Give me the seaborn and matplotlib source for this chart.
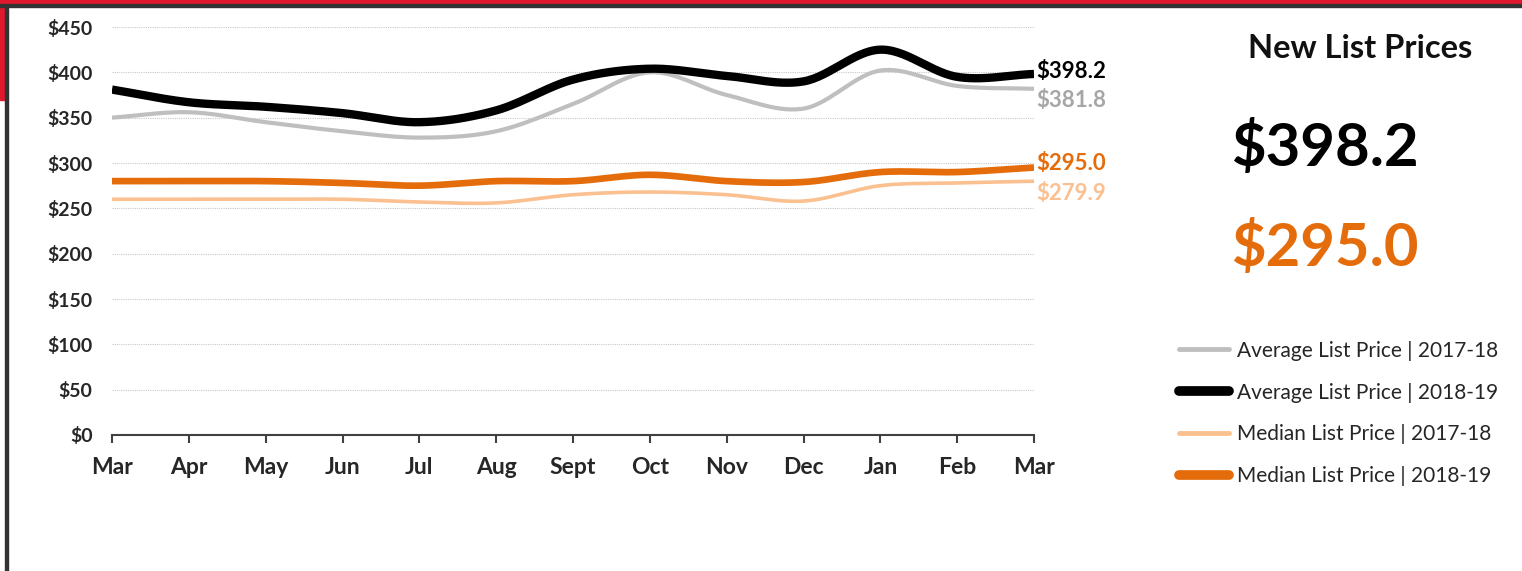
import numpy as np
import pandas as pd
import matplotlib
matplotlib.use("Agg")
import matplotlib.pyplot as plt
from matplotlib.patches import Rectangle
import seaborn as sns

months = ["Mar", "Apr", "May", "Jun", "Jul", "Aug", "Sept", "Oct", "Nov", "Dec", "Jan", "Feb", "Mar"]
avg_2017_18 = [350, 356, 345, 335, 328, 335, 365, 400, 375, 360, 402, 385, 381.8]
avg_2018_19 = [381, 367, 362, 355, 345, 358, 392, 404, 396, 390, 425, 395, 398.2]
med_2017_18 = [260, 260, 260, 260, 257, 256, 265, 268, 265, 258, 275, 278, 279.9]
med_2018_19 = [280, 280, 280, 278, 275, 280, 280, 287, 280, 279, 290, 290, 295.0]
series_names = ["Average List Price | 2017-18", "Average List Price | 2018-19",
                "Median List Price | 2017-18", "Median List Price | 2018-19"]
yticks = [0, 50, 100, 150, 200, 250, 300, 350, 400, 450]

colors = ["#BFBFBF", "#000000", "#FAC090", "#E46C0A"]
widths = [3.0, 6.0, 2.6, 4.8]
label_colors = ["#A6A6A6", "#000000", "#FAC090", "#E46C0A"]


def smooth(y, n=30):
    """Catmull-Rom curve through the data points (Excel-like smoothed line)."""
    y = np.asarray(y, float)
    x = np.arange(len(y), dtype=float)
    P = np.column_stack([x, y])
    P = np.vstack([P[0] * 2 - P[1], P, P[-1] * 2 - P[-2]])
    out = []
    for i in range(1, len(P) - 2):
        p0, p1, p2, p3 = P[i - 1], P[i], P[i + 1], P[i + 2]
        t = np.linspace(0, 1, n, endpoint=False)[:, None]
        pt = 0.5 * ((2 * p1) + (-p0 + p2) * t + (2 * p0 - 5 * p1 + 4 * p2 - p3) * t ** 2
                    + (-p0 + 3 * p1 - 3 * p2 + p3) * t ** 3)
        out.append(pt)
    out.append(P[-2][None, :])
    return np.vstack(out)


sns.set_style("white")
plt.rcParams["font.family"] = ["Lato", "DejaVu Sans"]

fig = plt.figure(figsize=(15.22, 5.71), dpi=100)
ax = fig.add_axes([112 / 1522, 1 - 435 / 571, (1034 - 112) / 1522, (435 - 27) / 571])

all_series = [avg_2017_18, avg_2018_19, med_2017_18, med_2018_19]
frames = []
for name, vals in zip(series_names, all_series):
    c = smooth(vals)
    frames.append(pd.DataFrame({"x": c[:, 0], "y": c[:, 1], "series": name}))
df = pd.concat(frames, ignore_index=True)

order = [0, 2, 3, 1]
for i in order:
    sub = df[df["series"] == series_names[i]]
    sns.lineplot(data=sub, x="x", y="y", ax=ax, color=colors[i], linewidth=widths[i],
                 label=series_names[i], sort=False, estimator=None, zorder=3 + i,
                 solid_capstyle="butt")

ax.set_xlim(0, len(months) - 1)
ax.set_ylim(0, 450)
ax.set_yticks(yticks)
ax.set_yticklabels([f"${v}" for v in yticks], fontsize=14, fontweight="bold")
ax.set_xticks(range(len(months)))
ax.set_xticklabels(months, fontsize=16.5, fontweight="bold")
ax.set_xlabel("")
ax.set_ylabel("")
for s in ["top", "right", "left"]:
    ax.spines[s].set_visible(False)
ax.spines["bottom"].set_color("#404040")
ax.spines["bottom"].set_linewidth(1.5)
ax.tick_params(axis="x", direction="out", length=6, width=1.5, color="#404040", pad=10, bottom=True)
ax.tick_params(axis="y", length=0, pad=14)
ax.yaxis.grid(True, linestyle=(0, (1, 1)), color="#C8C8C8", linewidth=0.8)
ax.xaxis.grid(False)
ax.set_axisbelow(True)

# end-of-line value labels
end_offsets = [-1, 2, -1, 3]
for i, vals in enumerate(all_series):
    ax.annotate(f"${vals[-1]:.1f}", xy=(len(months) - 1, vals[-1]), xytext=(2, end_offsets[i]),
                textcoords="offset points", fontsize=16, fontweight="bold",
                color=label_colors[i], va="center" if i in (1, 3) else "top", ha="left",
                annotation_clip=False)

# Legend
handles, labels = ax.get_legend_handles_labels()
hmap = dict(zip(labels, handles))
leg = fig.legend([hmap[n] for n in series_names], series_names,
                 loc="upper left", bbox_to_anchor=(1160 / 1522, 1 - 322 / 571),
                 frameon=False, fontsize=15, handlelength=2.4, handletextpad=0.4,
                 labelspacing=1.05)
for line, w in zip(leg.get_lines(), [3.5, 7, 3.5, 7]):
    line.set_linewidth(w)
    line.set_solid_capstyle("round")
if ax.get_legend():
    ax.get_legend().remove()

# Side panel text
fig.text(1360 / 1522, 1 - 48 / 571, "New List Prices", ha="center", va="center",
         fontsize=23.5, fontweight="bold", color="#111111")
fig.text(1325 / 1522, 1 - 148 / 571, f"${avg_2018_19[-1]:.1f}", ha="center", va="center",
         fontsize=43, fontweight="bold", color="#000000")
fig.text(1325 / 1522, 1 - 248 / 571, f"${med_2018_19[-1]:.1f}", ha="center", va="center",
         fontsize=43, fontweight="bold", color="#E46C0A")

# Slide frame decorations
H, W = 571, 1522
fig.patches.append(Rectangle((0, 1 - 5 / H), 1, 5 / H, transform=fig.transFigure,
                             color="#E0182F", zorder=0))
fig.patches.append(Rectangle((0, 1 - 7 / H), 1, 2.5 / H, transform=fig.transFigure,
                             color="#333333", zorder=1))
fig.patches.append(Rectangle((0, 1 - 100 / H), 5 / W, 100 / H, transform=fig.transFigure,
                             color="#E0182F", zorder=0))
fig.patches.append(Rectangle((5 / W, 0), 2.5 / W, 1 - 5 / H, transform=fig.transFigure,
                             color="#333333", zorder=1))

fig.savefig("out.png", dpi=100)
